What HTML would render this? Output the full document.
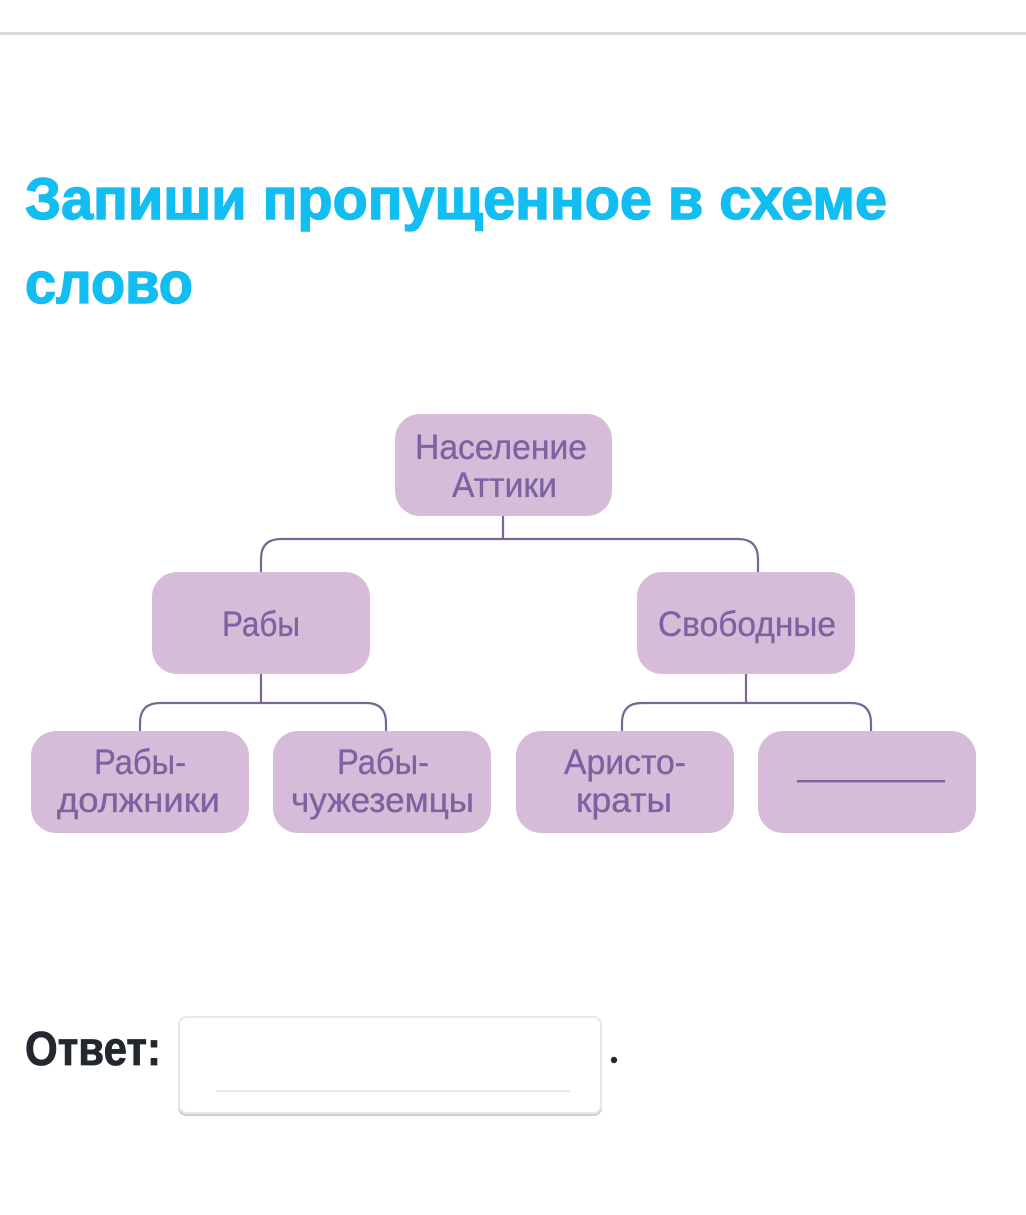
<!DOCTYPE html>
<html lang="ru">
<head>
<meta charset="utf-8">
<title>Запиши пропущенное в схеме слово</title>
<style>
html,body{margin:0;padding:0;background:#fff;width:1026px;height:1215px;overflow:hidden}
svg{display:block}
text{font-family:"Liberation Sans",sans-serif}
.n{fill:#7b63a2;font-size:35px;stroke:#7b63a2;stroke-width:.35}
.t{fill:#12bdf2;font-size:58px;font-weight:bold;stroke:#12bdf2;stroke-width:1.4}
.b{fill:#d6bcd9}
.c{fill:none;stroke:#7a6595;stroke-width:2.2}
</style>
</head>
<body>
<svg width="1026" height="1215" viewBox="0 0 1026 1215" xmlns="http://www.w3.org/2000/svg">
<rect x="0" y="32" width="1026" height="3" fill="#d9d9d9"/>
<text class="t" x="25" y="219" textLength="862" lengthAdjust="spacingAndGlyphs">Запиши пропущенное в схеме</text>
<text class="t" x="25" y="303" textLength="168" lengthAdjust="spacingAndGlyphs">слово</text>

<path class="c" d="M503 516V539M261 573V559Q261 539 281 539H738Q758 539 758 559V573"/>
<path class="c" d="M261 674V703M140 731V723Q140 703 160 703H366Q386 703 386 723V731"/>
<path class="c" d="M746 674V703M622 731V723Q622 703 642 703H851Q871 703 871 723V731"/>

<rect class="b" x="395" y="414" width="217" height="102" rx="25"/>
<rect class="b" x="152" y="572" width="218" height="102" rx="25"/>
<rect class="b" x="637" y="572" width="218" height="102" rx="25"/>
<rect class="b" x="31" y="731" width="218" height="102" rx="25"/>
<rect class="b" x="273" y="731" width="218" height="102" rx="25"/>
<rect class="b" x="516" y="731" width="218" height="102" rx="25"/>
<rect class="b" x="758" y="731" width="218" height="102" rx="25"/>

<text class="n" x="415" y="459" textLength="172" lengthAdjust="spacingAndGlyphs">Население</text>
<text class="n" x="452" y="497" textLength="105" lengthAdjust="spacingAndGlyphs">Аттики</text>
<text class="n" x="222" y="636" textLength="78" lengthAdjust="spacingAndGlyphs">Рабы</text>
<text class="n" x="658" y="636" textLength="178" lengthAdjust="spacingAndGlyphs">Свободные</text>
<text class="n" x="94" y="774" textLength="92" lengthAdjust="spacingAndGlyphs">Рабы-</text>
<text class="n" x="57" y="812" textLength="163" lengthAdjust="spacingAndGlyphs">должники</text>
<text class="n" x="337" y="774" textLength="92" lengthAdjust="spacingAndGlyphs">Рабы-</text>
<text class="n" x="291" y="812" textLength="183" lengthAdjust="spacingAndGlyphs">чужеземцы</text>
<text class="n" x="564" y="774" textLength="122" lengthAdjust="spacingAndGlyphs">Аристо-</text>
<text class="n" x="576" y="812" textLength="96" lengthAdjust="spacingAndGlyphs">краты</text>
<rect x="797" y="780" width="148" height="2.4" fill="#7b63a2"/>

<text x="25" y="1065" font-size="48" font-weight="bold" fill="#22282e" stroke="#22282e" stroke-width=".8" textLength="136" lengthAdjust="spacingAndGlyphs">Ответ:</text>
<rect x="178" y="1017" width="424" height="99" rx="8" fill="#cfd2cc"/>
<rect x="179" y="1017" width="422" height="96" rx="8" fill="#fff" stroke="#e4ebdf" stroke-width="2"/>
<rect x="216" y="1090" width="354" height="2.4" fill="#e9e9e9"/>
<circle cx="614" cy="1060" r="3.2" fill="#22282e"/>
</svg>
</body>
</html>
